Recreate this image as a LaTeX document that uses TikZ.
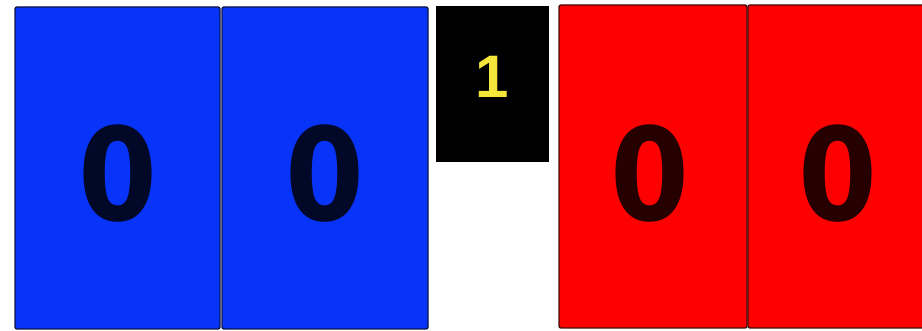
\documentclass[tikz,border=0pt]{standalone}
\usepackage{fontspec}
\setmainfont{Liberation Sans}
\newfontfamily\zerofont{DejaVu Sans}
\definecolor{bluefill}{RGB}{8,52,250}
\definecolor{blueedge}{RGB}{10,20,70}
\definecolor{bluedigit}{RGB}{2,8,40}
\definecolor{redfill}{RGB}{255,0,0}
\definecolor{rededge}{RGB}{70,10,10}
\definecolor{reddigit}{RGB}{38,0,0}
\definecolor{yellowdigit}{RGB}{245,230,60}
\newcommand{\bigzero}{\scalebox{0.88}[1]{0}}
\begin{document}
\begin{tikzpicture}[x=1pt,y=1pt,
  card/.style={rectangle, rounded corners=2pt, line width=1.4pt, inner sep=0pt},
  bluecard/.style={card, draw=blueedge, fill=bluefill},
  redcard/.style={card, draw=rededge, fill=redfill},
  bigdigit/.style={font=\zerofont\fontsize{129}{129}\selectfont\bfseries, inner sep=0pt},
  smalldigit/.style={font=\fontsize{60}{60}\selectfont\bfseries, inner sep=0pt, text=yellowdigit}]
\useasboundingbox (0,0) rectangle (922,331);
\fill[white] (0,0) rectangle (922,331);
% blue cards
\node[bluecard, minimum width=205pt, minimum height=322pt] (b1) at (117.5,163) {};
\node[bluecard, minimum width=206pt, minimum height=322pt] (b2) at (325,163) {};
% black card
\node[rectangle, fill=black, minimum width=113pt, minimum height=156pt, inner sep=0pt] (k) at (492.5,247) {};
% red cards
\node[redcard, minimum width=188pt, minimum height=323pt] (r1) at (653,164.5) {};
\node[redcard, minimum width=188pt, minimum height=323pt] (r2) at (842,164.5) {};
% digits
\node[bigdigit, text=bluedigit] (d1) at ([yshift=-6pt]b1.center) {\bigzero};
\node[bigdigit, text=bluedigit] (d2) at ([yshift=-6pt]b2.center) {\bigzero};
\node[bigdigit, text=reddigit] (d3) at ([xshift=-3pt,yshift=-7pt]r1.center) {\bigzero};
\node[bigdigit, text=reddigit] (d4) at ([xshift=-4pt,yshift=-7pt]r2.center) {\bigzero};
\node[smalldigit] (d5) at ([yshift=7pt]k.center) {1};
\end{tikzpicture}
\end{document}
